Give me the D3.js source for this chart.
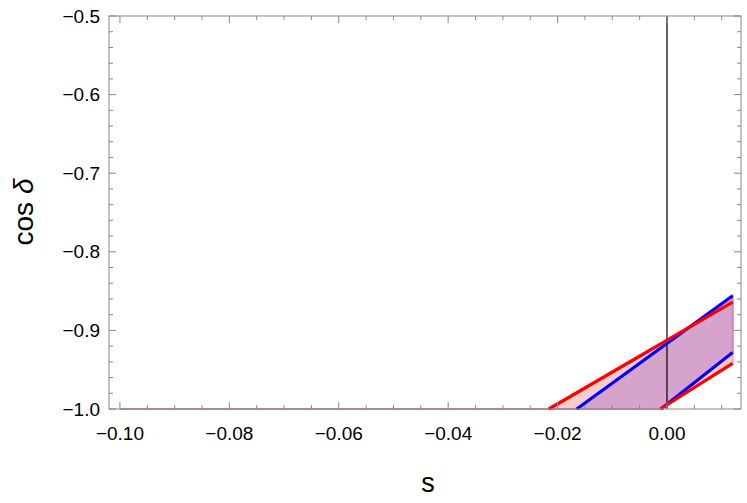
<!DOCTYPE html>
<html>
<head>
<meta charset="utf-8">
<script src="https://cdn.jsdelivr.net/npm/d3@7"></script>
<style>
  body { margin: 0; background: #fff; }
  text { font-family: "Liberation Sans", Arial, sans-serif; }
</style>
</head>
<body>
<div id="root"></div>
<script>
// boundary lines as [s, cos delta] end points
const redUpper = [[-0.0216, -1.0], [0.012, -0.864]];
const redLower = [[-0.0012, -1.0], [0.012, -0.942]];
const blueUpper = [[-0.0165, -1.0], [0.012, -0.856]];
const blueLower = [[-0.0011, -1.0], [0.012, -0.928]];
const sStart = -0.1;
const xTicks = [-0.10, -0.08, -0.06, -0.04, -0.02, 0.00];
const yTicks = [-1.0, -0.9, -0.8, -0.7, -0.6, -0.5];

const svgWidth = 747;
const svgHeight = 503;
const margin = { top: 16, right: 6, bottom: 94, left: 109 };
const chartWidth = svgWidth - margin.left - margin.right;
const chartHeight = svgHeight - margin.top - margin.bottom;

const xScale = d3.scaleLinear().domain([-0.102, 0.01353]).range([0, chartWidth]);
const yScale = d3.scaleLinear().domain([-1.0, -0.5]).range([chartHeight, 0]);

const svg = d3.select('#root').append('svg')
  .attr('width', svgWidth)
  .attr('height', svgHeight);

const chart = svg.append('g')
  .attr('transform', `translate(${margin.left}, ${margin.top})`);

// band polygon: along the bottom (-1) from sStart, up the lower line, back down the upper line
function band(upper, lower) {
  return [
    [sStart, -1], [lower[0][0], -1], lower[1],
    upper[1], upper[0], [sStart, -1]
  ];
}
const line = d3.line().x(d => xScale(d[0])).y(d => yScale(d[1]));

chart.append('path')
  .attr('d', line(band(redUpper, redLower)) + 'Z')
  .attr('fill', '#fbcaca')
  .attr('stroke', '#f3a8b8')
  .attr('stroke-width', 2);

chart.append('path')
  .attr('d', line(band(blueUpper, blueLower)) + 'Z')
  .attr('fill', '#d5a3cc')
  .attr('stroke', '#c888c0')
  .attr('stroke-width', 2);

chart.append('line')
  .attr('x1', xScale(0)).attr('x2', xScale(0))
  .attr('y1', 0).attr('y2', chartHeight)
  .attr('stroke', '#000').attr('stroke-width', 1.2);

// blue first, red on top
[[blueUpper, '#0000ff'], [blueLower, '#0000ff'], [redUpper, '#ff0000'], [redLower, '#ff0000']]
  .forEach(([pts, c]) => {
    chart.append('path')
      .attr('d', line(pts))
      .attr('fill', 'none')
      .attr('stroke', c)
      .attr('stroke-width', 3.2);
  });

// frame and ticks
const frameColor = '#888';
chart.append('rect')
  .attr('width', chartWidth).attr('height', chartHeight)
  .attr('fill', 'none').attr('stroke', frameColor).attr('stroke-width', 1);

const xMinor = d3.range(-0.1, 0.0131, 0.005);
const yMinor = d3.range(-1.0, -0.499, 0.02);
xMinor.forEach(v => {
  const major = xTicks.some(t => Math.abs(t - v) < 1e-6);
  const len = major ? 7 : 4;
  const x = xScale(v);
  chart.append('line').attr('x1', x).attr('x2', x)
    .attr('y1', chartHeight).attr('y2', chartHeight - len).attr('stroke', frameColor);
  chart.append('line').attr('x1', x).attr('x2', x)
    .attr('y1', 0).attr('y2', len).attr('stroke', frameColor);
});
yMinor.forEach(v => {
  const major = yTicks.some(t => Math.abs(t - v) < 1e-6);
  const len = major ? 7 : 4;
  const y = yScale(v);
  chart.append('line').attr('x1', 0).attr('x2', len)
    .attr('y1', y).attr('y2', y).attr('stroke', frameColor);
  chart.append('line').attr('x1', chartWidth).attr('x2', chartWidth - len)
    .attr('y1', y).attr('y2', y).attr('stroke', frameColor);
});

chart.selectAll('.xlab').data(xTicks).enter().append('text')
  .attr('x', d => xScale(d))
  .attr('y', chartHeight + 31)
  .attr('text-anchor', 'middle')
  .attr('font-size', 19)
  .text(d => d3.format('.2f')(d).replace('-', '\u2212'));

chart.selectAll('.ylab').data(yTicks).enter().append('text')
  .attr('x', -9)
  .attr('y', d => yScale(d))
  .attr('dy', '0.35em')
  .attr('text-anchor', 'end')
  .attr('font-size', 19)
  .text(d => d3.format('.1f')(d).replace('-', '\u2212'));

svg.append('text')
  .attr('x', 428).attr('y', 492)
  .attr('text-anchor', 'middle')
  .attr('font-size', 27)
  .text('s');

svg.append('text')
  .attr('transform', 'translate(33, 212) rotate(-90)')
  .attr('text-anchor', 'middle')
  .attr('font-size', 28)
  .html('cos <tspan font-style="italic">δ</tspan>');
</script>
</body>
</html>
